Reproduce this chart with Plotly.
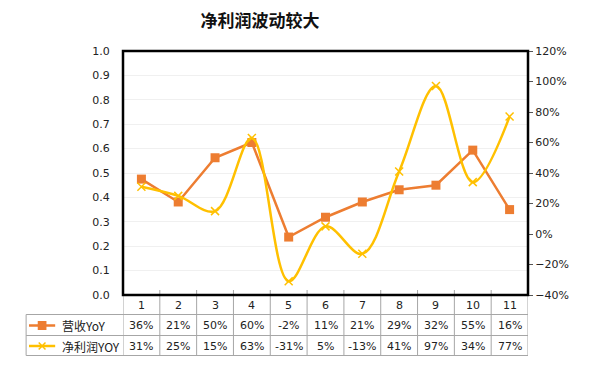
import plotly.graph_objects as go

categories = [1, 2, 3, 4, 5, 6, 7, 8, 9, 10, 11]
revenue_yoy = [36, 21, 50, 60, -2, 11, 21, 29, 32, 55, 16]
profit_yoy = [31, 25, 15, 63, -31, 5, -13, 41, 97, 34, 77]
series_names = ["营收YoY", "净利润YOY"]
title_text = "净利润波动较大"

ORANGE = "#ED7D31"
YELLOW = "#FFC000"
GRID = "#A6A6A6"
OFF = 8  # default page body margin
W, H = 589 - 2 * OFF, 372 - 2 * OFF
# plot area in screen pixels: x 123..541, y 51..295
L = 123 - OFF
T = 51 - OFF
R = W - (541 - OFF)
B = H - (295 - OFF)
PW = W - L - R
PH = H - T - B


def px2x(px):
    return (px - OFF - L) / PW


def py2y(py):
    return (H - B - (py - OFF)) / PH


fig = go.Figure()

# anchor trace so the left axis is drawn
fig.add_trace(go.Scatter(x=[categories[0]], y=[0], mode="markers", marker=dict(opacity=0),
                         hoverinfo="skip", showlegend=False))
fig.add_trace(go.Scatter(
    x=categories, y=revenue_yoy, name=series_names[0], yaxis="y2",
    mode="lines+markers", line=dict(color=ORANGE, width=2.5),
    marker=dict(symbol="square", size=9, color=ORANGE),
    showlegend=False,
))
fig.add_trace(go.Scatter(
    x=categories, y=profit_yoy, name=series_names[1], yaxis="y2",
    mode="lines+markers", line=dict(color=YELLOW, width=2.5, shape="spline", smoothing=1.0),
    marker=dict(symbol="x-thin", size=8, color=YELLOW, line=dict(color=YELLOW, width=1.5)),
    showlegend=False,
))

shapes = []
annotations = []
tfont = dict(family="DejaVu Sans", size=11, color="#222")

# Table lines
y_row_lines = [py2y(314.5), py2y(335.5), py2y(355.5)]
for yl in y_row_lines:
    shapes.append(dict(type="line", xref="paper", yref="paper", x0=px2x(23), x1=1,
                       y0=yl, y1=yl, line=dict(color=GRID, width=1)))
shapes.append(dict(type="line", xref="paper", yref="paper", x0=px2x(23), x1=px2x(23),
                   y0=y_row_lines[0], y1=y_row_lines[2], line=dict(color=GRID, width=1)))
for i in range(len(categories) + 1):
    xb = categories[0] - 0.5 + i
    shapes.append(dict(type="line", xref="x", yref="paper", x0=xb, x1=xb,
                       y0=py2y(290), y1=y_row_lines[2], line=dict(color=GRID, width=1), layer="below"))

# Table text
for c, rv, pv in zip(categories, revenue_yoy, profit_yoy):
    for txt, row_py in [(str(c), 305), (f"{rv}%", 325.5), (f"{pv}%", 346)]:
        annotations.append(dict(x=c, y=py2y(row_py), xref="x", yref="paper", text=txt,
                                xanchor="center", yanchor="middle", showarrow=False, font=tfont))

# Legend keys
for row_py, color, name, sym in [(325.5, ORANGE, series_names[0], "sq"), (346, YELLOW, series_names[1], "x")]:
    yy = py2y(row_py)
    shapes.append(dict(type="line", xref="paper", yref="paper", x0=px2x(26), x1=px2x(53),
                       y0=yy, y1=yy, line=dict(color=color, width=2.5)))
    if sym == "sq":
        shapes.append(dict(type="rect", xref="paper", yref="paper",
                           x0=px2x(35), x1=px2x(44), y0=py2y(row_py + 4.5), y1=py2y(row_py - 4.5),
                           fillcolor=color, line=dict(width=0)))
    else:
        shapes.append(dict(type="line", xref="paper", yref="paper", x0=px2x(36), x1=px2x(43),
                           y0=py2y(row_py + 3.5), y1=py2y(row_py - 3.5), line=dict(color=color, width=1.5)))
        shapes.append(dict(type="line", xref="paper", yref="paper", x0=px2x(36), x1=px2x(43),
                           y0=py2y(row_py - 3.5), y1=py2y(row_py + 3.5), line=dict(color=color, width=1.5)))
    annotations.append(dict(x=px2x(58), y=yy, xref="paper", yref="paper", text=name,
                            xanchor="left", yanchor="middle", showarrow=False,
                            font=dict(family="Noto Sans CJK SC, DejaVu Sans", size=12, color="#222")))

# Plot border
shapes.append(dict(type="rect", xref="paper", yref="paper", x0=0, x1=1, y0=0, y1=1,
                   line=dict(color="black", width=2.5), layer="above"))

fig.update_layout(
    width=W, height=H,
    margin=dict(l=L, r=R, t=T, b=B, pad=0),
    paper_bgcolor="white", plot_bgcolor="white",
    showlegend=False,
    title=dict(text=f"<b>{title_text}</b>", x=(260 - OFF) / W, y=1 - (21 - OFF) / H,
               xref="container", yref="container", xanchor="center", yanchor="middle",
               font=dict(family="Noto Sans CJK SC", size=17, color="#111")),
    xaxis=dict(range=[0.5, 11.5], showticklabels=False, ticks="", showgrid=False,
               zeroline=False, fixedrange=True),
    yaxis=dict(range=[0, 1], dtick=0.1, tickformat=".1f", showgrid=True, gridcolor="#F0F0F0",
               zeroline=False, ticks="outside", ticklen=10, tickcolor="rgba(0,0,0,0)",
               tickfont=dict(family="DejaVu Sans", size=11, color="#222"), showline=False),
    yaxis2=dict(range=[-40, 120], dtick=20, ticksuffix="%", overlaying="y", side="right",
                showgrid=False, zeroline=False, ticks="outside", ticklen=4, tickcolor="#555",
                showline=True, linecolor="#555", linewidth=1,
                tickfont=dict(family="DejaVu Sans", size=11, color="#222")),
    shapes=shapes,
    annotations=annotations,
)

fig.write_html("out.html")
